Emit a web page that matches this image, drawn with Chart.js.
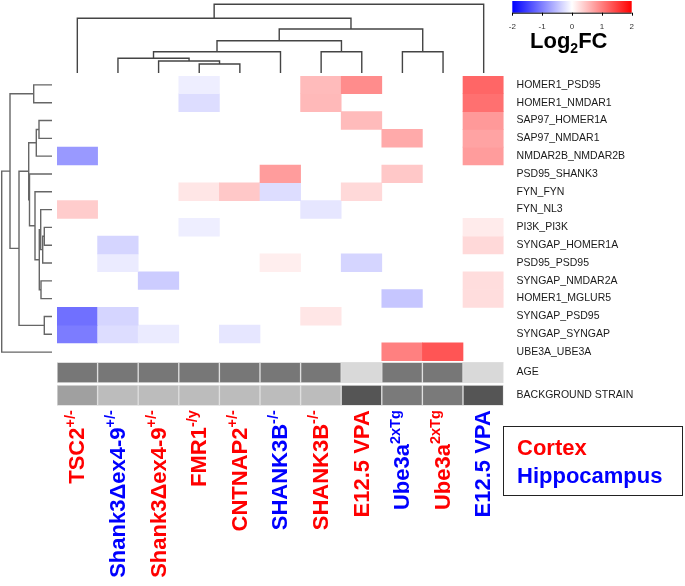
<!DOCTYPE html>
<html>
<head>
<meta charset="utf-8">
<script src="https://cdn.jsdelivr.net/npm/chart.js@4.4.1/dist/chart.umd.min.js"></script>
<style>
  body { margin: 0; background: #fff; }
  #wrap { position: relative; width: 685px; height: 586px; font-family: "Liberation Sans", Arial, sans-serif; }
  canvas { position: absolute; }
  #cbTitle { position: absolute; left: 530px; top: 30px; font-weight: bold; font-size: 22px; line-height: 22px; color: #000; }
  #cbTitle sub { font-size: 14px; line-height: 0; vertical-align: -5px; }
  #legendBox { position: absolute; left: 503px; top: 426px; width: 180px; height: 70px; border: 1.5px solid #222;
    font-weight: bold; font-size: 22px; line-height: 28px; padding: 7px 0 0 13px; box-sizing: border-box; }
</style>
</head>
<body>
<div id="wrap">
  <canvas id="heat" width="685" height="586" style="left:0;top:0"></canvas>
  <canvas id="topTree" width="447" height="76" style="left:57px;top:0"></canvas>
  <canvas id="leftTree" width="60" height="285" style="left:0;top:76px"></canvas>
  <canvas id="colorBar" width="145" height="32" style="left:500px;top:0"></canvas>
  <div id="cbTitle">Log<sub>2</sub>FC</div>
  <div id="legendBox">
    <div style="color:#ff0000">Cortex</div>
    <div style="color:#0000ff">Hippocampus</div>
  </div>
</div>
<script>
// columns (models), in dendrogram order
var models = ["TSC2", "Shank3Δex4-9", "Shank3Δex4-9", "FMR1", "CNTNAP2", "SHANK3B", "SHANK3B", "E12.5 VPA", "Ube3a", "Ube3a", "E12.5 VPA"];
var genotypes = ["+/-", "+/-", "+/-", "-/y", "+/-", "-/-", "-/-", "", "2xTg", "2xTg", ""];
var tissues = ["Cortex", "Hippocampus", "Cortex", "Cortex", "Cortex", "Hippocampus", "Cortex", "Cortex", "Hippocampus", "Cortex", "Hippocampus"];

// rows (protein interactions)
var interactions = ["HOMER1_PSD95", "HOMER1_NMDAR1", "SAP97_HOMER1A", "SAP97_NMDAR1", "NMDAR2B_NMDAR2B",
  "PSD95_SHANK3", "FYN_FYN", "FYN_NL3", "PI3K_PI3K", "SYNGAP_HOMER1A", "PSD95_PSD95",
  "SYNGAP_NMDAR2A", "HOMER1_MGLUR5", "SYNGAP_PSD95", "SYNGAP_SYNGAP", "UBE3A_UBE3A"];

// log2 fold change, one array per interaction, one value per model
var log2fc = [
  [0, 0, 0, -0.13, 0, 0, 0.53, 0.9, 0, 0, 1.2],
  [0, 0, 0, -0.27, 0, 0, 0.55, 0, 0, 0, 1.12],
  [0, 0, 0, 0, 0, 0, 0, 0.53, 0, 0, 0.8],
  [0, 0, 0, 0, 0, 0, 0, 0, 0.67, 0, 0.72],
  [-0.8, 0, 0, 0, 0, 0, 0, 0, 0, 0, 0.78],
  [0, 0, 0, 0, 0, 0.78, 0, 0, 0.43, 0, 0],
  [0, 0, 0, 0.2, 0.43, -0.27, 0, 0.3, 0, 0, 0],
  [0.4, 0, 0, 0, 0, 0, -0.2, 0, 0, 0, 0],
  [0, 0, 0, -0.13, 0, 0, 0, 0, 0, 0, 0.16],
  [0, -0.33, 0, 0, 0, 0, 0, 0, 0, 0, 0.3],
  [0, -0.16, 0, 0, 0, 0.13, 0, -0.33, 0, 0, 0],
  [0, 0, -0.4, 0, 0, 0, 0, 0, 0, 0, 0.27],
  [0, 0, 0, 0, 0, 0, 0, 0, -0.45, 0, 0.27],
  [-1.12, -0.33, 0, 0, 0, 0, 0.2, 0, 0, 0, 0],
  [-1.03, -0.27, -0.16, 0, -0.2, 0, 0, 0, 0, 0, 0],
  [0, 0, 0, 0, 0, 0, 0, 0, 1.0, 1.33, 0]
];

// annotation rows (group codes)
var annotationNames = ["AGE", "BACKGROUND STRAIN"];
var ageGroup = [1, 1, 1, 1, 1, 1, 1, 0, 1, 1, 0];
var strainGroup = [1, 2, 2, 2, 2, 2, 2, 4, 3, 3, 4];

// colour key range and ticks
var keyRange = [-2, 2];
var keyTicks = [-2, -1, 0, 1, 2];

// dendrograms, hclust style merges: [left, right, height]; negative = leaf number
var colMerges = [[-4, -5, 9], [-3, 1, 12], [-2, 2, 14.7], [3, -6, 21.3], [-7, -8, 21.3],
  [-9, -10, 21.3], [4, 5, 32.3], [7, 6, 44], [-1, 8, 54.7], [9, -11, 68.7]];
var rowMerges = [[-9, -10, 7.7], [-14, -15, 7.7], [1, -11, 9.3], [-12, -13, 11], [-8, 3, 11.3],
  [5, 4, 12.7], [-3, -4, 13], [7, -5, 15.7], [-7, 6, 17], [-1, -2, 18.3], [-6, 9, 22.5],
  [8, 11, 23.3], [12, 2, 33], [10, 13, 42], [14, -16, 50.3]];

var tissueColors = { Cortex: "#ff0000", Hippocampus: "#0000ff" };
var ageShades = ["#d9d9d9", "#777777"];
var strainShades = ["#ffffff", "#a0a0a0", "#bcbcbc", "#7a7a7a", "#555555"];

function fcColor(v) {
  var t = Math.min(Math.abs(v) / 2, 1);
  var c = Math.round(255 * (1 - t));
  if (v > 0) return "rgb(255," + c + "," + c + ")";
  if (v < 0) return "rgb(" + c + "," + c + ",255)";
  return "rgba(255,255,255,0)";
}

// heatmap rows in row units; annotation rows a bit taller, below the heatmap
var annStart = 16.09, annHeight = 1.16, annGap = 0.12;

var heatSets = log2fc.map(function (row, r) {
  return {
    data: row.map(function () { return [r, r + 1]; }),
    backgroundColor: row.map(fcColor),
    borderWidth: 0
  };
});
[ageGroup, strainGroup].forEach(function (groups, k) {
  var y0 = annStart + k * (annHeight + annGap);
  var shades = k === 0 ? ageShades : strainShades;
  heatSets.push({
    data: groups.map(function () { return [y0, y0 + annHeight]; }),
    backgroundColor: groups.map(function (g) { return shades[g]; }),
    borderColor: "#dedede",
    borderWidth: 1,
    borderSkipped: false
  });
});

var labelFont = '"Liberation Sans", Arial, sans-serif';

var labelPlugin = {
  id: "labels",
  afterDraw: function (chart) {
    var ctx = chart.ctx, area = chart.chartArea, x = chart.scales.x, y = chart.scales.y;
    ctx.save();
    ctx.fillStyle = "#1a1a1a";
    ctx.font = "10.5px " + labelFont;
    ctx.textBaseline = "middle";
    ctx.textAlign = "left";
    interactions.forEach(function (name, i) {
      ctx.fillText(name, area.right + 13, y.getPixelForValue(i + 0.5));
    });
    annotationNames.forEach(function (name, k) {
      var mid = annStart + k * (annHeight + annGap) + annHeight / 2;
      ctx.fillText(name, area.right + 13, y.getPixelForValue(mid));
    });
    // model names, rotated, with genotype as superscript
    models.forEach(function (name, i) {
      var px = x.getPixelForValue(i);
      ctx.save();
      ctx.translate(px, area.bottom + 4.5);
      ctx.rotate(-Math.PI / 2);
      ctx.fillStyle = tissueColors[tissues[i]];
      ctx.font = "bold 22px " + labelFont;
      var w1 = ctx.measureText(name).width;
      ctx.font = "bold 14.5px " + labelFont;
      var w2 = genotypes[i] ? ctx.measureText(genotypes[i]).width : 0;
      ctx.font = "bold 22px " + labelFont;
      ctx.fillText(name, -(w1 + w2), 1);
      if (w2) {
        ctx.font = "bold 14.5px " + labelFont;
        ctx.fillText(genotypes[i], -w2, -6.5);
      }
      ctx.restore();
    });
    ctx.restore();
  }
};

new Chart(document.getElementById("heat"), {
  type: "bar",
  data: { labels: models, datasets: heatSets },
  options: {
    responsive: false,
    animation: false,
    layout: { padding: { left: 57, top: 76, right: 181.4, bottom: 180.3 } },
    datasets: { bar: { barPercentage: 1, categoryPercentage: 1 } },
    plugins: { legend: { display: false }, tooltip: { enabled: false } },
    scales: {
      x: { stacked: true, display: false },
      y: { min: 0, max: annStart + 2 * annHeight + annGap, reverse: true, display: false }
    }
  },
  plugins: [labelPlugin]
});

function treeLines(merges, vertical) {
  var pos = [], ht = [];
  function node(k) { return k < 0 ? [-k - 1, 0] : [pos[k - 1], ht[k - 1]]; }
  return merges.map(function (m, i) {
    var a = node(m[0]), b = node(m[1]), h = m[2];
    pos[i] = (a[0] + b[0]) / 2;
    ht[i] = h;
    var pts = [[a[0], a[1]], [a[0], h], [b[0], h], [b[0], b[1]]];
    return {
      data: pts.map(function (p) { return vertical ? { x: p[0], y: p[1] } : { x: p[1], y: p[0] }; }),
      showLine: true,
      pointRadius: 0,
      borderColor: vertical ? "#444" : "#666",
      borderWidth: 1.4,
      tension: 0
    };
  });
}

var treeOpts = function (scales, padding) {
  return {
    responsive: false,
    animation: false,
    layout: { padding: padding },
    plugins: { legend: { display: false }, tooltip: { enabled: false } },
    scales: scales
  };
};

new Chart(document.getElementById("topTree"), {
  type: "scatter",
  data: { datasets: treeLines(colMerges, true) },
  options: treeOpts({
    x: { type: "linear", min: -0.5, max: models.length - 0.5, display: false },
    y: { type: "linear", min: 0, max: 73, display: false }
  }, { bottom: 3 })
});

new Chart(document.getElementById("leftTree"), {
  type: "scatter",
  data: { datasets: treeLines(rowMerges, false) },
  options: treeOpts({
    x: { type: "linear", min: 0, max: 52, reverse: true, display: false },
    y: { type: "linear", min: -0.5, max: interactions.length - 0.5, reverse: true, display: false }
  }, { right: 8 })
});

// colour key: one floating bar with a gradient; axis line, ticks and labels from the x scale
var keyAxisPlugin = {
  id: "keyAxis",
  afterDraw: function (chart) {
    var ctx = chart.ctx, area = chart.chartArea, sx = chart.scales.x;
    ctx.save();
    ctx.strokeStyle = "#000";
    ctx.lineWidth = 1;
    ctx.beginPath();
    ctx.moveTo(area.left, area.bottom + 0.5);
    ctx.lineTo(area.right, area.bottom + 0.5);
    keyTicks.forEach(function (t) {
      var px = Math.round(sx.getPixelForValue(t)) + 0.5;
      ctx.moveTo(px, area.bottom);
      ctx.lineTo(px, area.bottom + 3);
    });
    ctx.stroke();
    ctx.fillStyle = "#333";
    ctx.font = "8px " + labelFont;
    ctx.textAlign = "center";
    ctx.textBaseline = "middle";
    keyTicks.forEach(function (t) {
      ctx.fillText(String(t), sx.getPixelForValue(t), area.bottom + 14);
    });
    ctx.restore();
  }
};

new Chart(document.getElementById("colorBar"), {
  type: "bar",
  data: {
    labels: [""],
    datasets: [{
      data: [keyRange],
      borderWidth: 0,
      barPercentage: 1,
      categoryPercentage: 1,
      backgroundColor: function (context) {
        var area = context.chart.chartArea;
        if (!area || !isFinite(area.left) || !isFinite(area.right)) return "#fff";
        var g = context.chart.ctx.createLinearGradient(area.left, 0, area.right, 0);
        g.addColorStop(0, "rgb(0,0,255)");
        g.addColorStop(0.5, "rgb(255,255,255)");
        g.addColorStop(1, "rgb(255,0,0)");
        return g;
      }
    }]
  },
  options: {
    indexAxis: "y",
    responsive: false,
    animation: false,
    layout: { padding: { left: 12.3, right: 13.3, top: 1, bottom: 19.3 } },
    plugins: { legend: { display: false }, tooltip: { enabled: false } },
    scales: {
      x: { min: keyRange[0], max: keyRange[1], display: false },
      y: { display: false }
    }
  },
  plugins: [keyAxisPlugin]
});
</script>
</body>
</html>
